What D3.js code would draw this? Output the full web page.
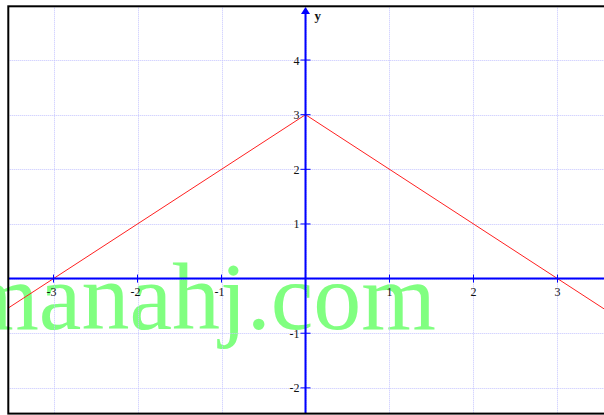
<!DOCTYPE html>
<html>
<head>
<meta charset="utf-8">
<script src="https://cdn.jsdelivr.net/npm/d3@7"></script>
<style>
html,body{margin:0;padding:0;background:#fff;overflow:hidden;}
svg{display:block;}
</style>
</head>
<body>
<script>
// Data
const xTicks = [-3, -2, -1, 1, 2, 3];
const yTicks = [-2, -1, 1, 2, 3, 4];
const xGrid = [-3, -2, -1, 0, 1, 2, 3];
const yGrid = [-2, -1, 0, 1, 2, 3, 4];
const lineX = [-3.6, 0, 3.6];
const lineY = [-0.6, 3, -0.6];
const axisLabel = "y";
const watermark = "manahj.com";

(function () {
const W = 604, H = 415;
const svg = d3.select("body").append("svg").attr("width", W).attr("height", H);

const pL = 8.3, pT = 6.3, pR = 612, pB = 413.6;
const x = d3.scaleLinear().domain([-3.5417, 3.5536]).range([8, 604]);
const y = d3.scaleLinear().domain([-2.46, 4.98]).range([413, 6.5]);

svg.append("defs").append("clipPath").attr("id", "clip")
  .append("rect").attr("x", pL).attr("y", pT).attr("width", pR - pL).attr("height", pB - pT);

// watermark (not clipped)
svg.append("text")
  .attr("x", 436).attr("y", 329)
  .attr("text-anchor", "end")
  .attr("font-family", "'Liberation Serif', 'Times New Roman', serif")
  .attr("font-size", 96)
  .attr("fill", "#80ff80")
  .text(watermark);

const g = svg.append("g").attr("clip-path", "url(#clip)");

// grid
g.selectAll(".gx").data(xGrid).join("line")
  .attr("x1", d => Math.round(x(d)) + 0.5).attr("x2", d => Math.round(x(d)) + 0.5)
  .attr("y1", pT).attr("y2", pB)
  .attr("stroke", "#c4c4ff").attr("stroke-width", 1).attr("stroke-dasharray", "1,1");
g.selectAll(".gy").data(yGrid).join("line")
  .attr("y1", d => Math.round(y(d)) + 0.5).attr("y2", d => Math.round(y(d)) + 0.5)
  .attr("x1", pL).attr("x2", pR)
  .attr("stroke", "#c4c4ff").attr("stroke-width", 1).attr("stroke-dasharray", "1,1");

// function line
const line = d3.line().x((d, i) => x(lineX[i])).y((d, i) => y(lineY[i]));
g.append("path").datum(lineX).attr("d", line)
  .attr("fill", "none").attr("stroke", "#ff2020").attr("stroke-width", 1);

// axes
const x0 = x(0), y0 = y(0);
g.append("line").attr("x1", pL).attr("x2", pR).attr("y1", y0).attr("y2", y0)
  .attr("stroke", "#0000ff").attr("stroke-width", 2);
g.append("line").attr("x1", x0).attr("x2", x0).attr("y1", 12).attr("y2", pB)
  .attr("stroke", "#0000ff").attr("stroke-width", 2);
// arrow
g.append("path")
  .attr("d", `M${x0},7 L${x0 - 4.5},14 L${x0 + 4.5},14 Z`)
  .attr("fill", "#0000ff");

// ticks
g.selectAll(".tx").data(xTicks).join("line")
  .attr("x1", d => x(d)).attr("x2", d => x(d))
  .attr("y1", y0 - 4).attr("y2", y0 + 4)
  .attr("stroke", "#0000ff").attr("stroke-width", 1);
g.selectAll(".ty").data(yTicks).join("line")
  .attr("y1", d => y(d)).attr("y2", d => y(d))
  .attr("x1", x0 - 5).attr("x2", x0 + 5)
  .attr("stroke", "#0000ff").attr("stroke-width", 1);

const font = "'Liberation Serif', 'Times New Roman', serif";
// tick labels
g.selectAll(".lx").data(xTicks).join("text")
  .attr("x", d => x(d) + (d < 0 ? -2 : 0)).attr("y", y0 + 17)
  .attr("text-anchor", "middle")
  .attr("font-family", font).attr("font-size", 12).attr("fill", "#111")
  .text(d => d);
g.selectAll(".ly").data(yTicks).join("text")
  .attr("x", x0 - 6).attr("y", d => y(d) + 4.5)
  .attr("text-anchor", "end")
  .attr("font-family", font).attr("font-size", 12).attr("fill", "#111")
  .text(d => d);

g.append("text").attr("x", x0 + 9).attr("y", 20)
  .attr("font-family", font).attr("font-size", 13).attr("font-weight", "bold").attr("fill", "#111")
  .text(axisLabel);

// border
svg.append("rect").attr("x", pL).attr("y", pT).attr("width", pR - pL).attr("height", pB - pT)
  .attr("fill", "none").attr("stroke", "#000").attr("stroke-width", 2);
})();
</script>
</body>
</html>
